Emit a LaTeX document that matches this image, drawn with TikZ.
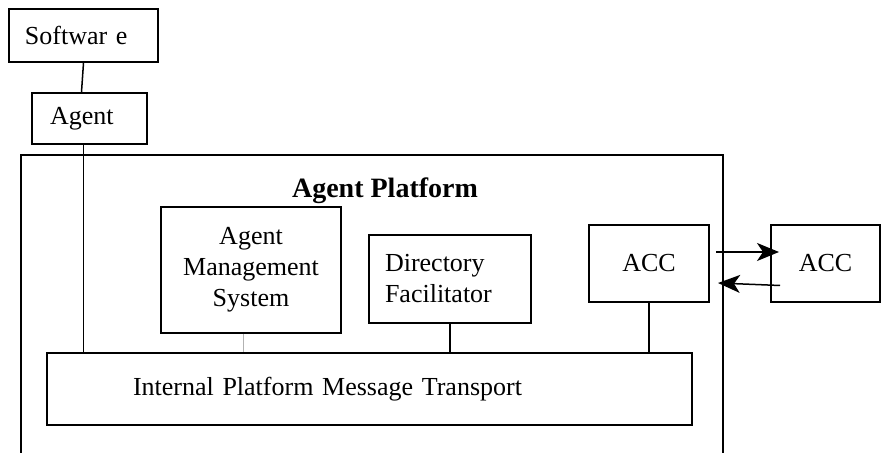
\documentclass[tikz,border=0pt]{standalone}
\usepackage{fontspec}
\setmainfont{Liberation Serif}
\usetikzlibrary{arrows.meta}

\begin{document}
\begin{tikzpicture}[x=0.5pt, y=-0.5pt, font=\fontsize{13}{15.5}\selectfont,
    box/.style={draw, rectangle, line width=1pt, inner sep=0pt},
    link/.style={line width=0.75pt},
    msg/.style={line width=0.75pt, -{Stealth[length=11pt, width=9pt, inset=3pt]}}]
    \useasboundingbox (0,0) rectangle (882,453);
    % platform frame
    \draw[line width=1pt] (21,453) -- (21,155) -- (723,155) -- (723,453);
    \node[font=\fontsize{14}{16}\selectfont\bfseries] (title) at (385,191) {Agent Platform};
    % boxes
    \node[box, text width=58.5pt, inner xsep=8pt, minimum height=26.5pt, align=left] (sw) at (83.5,35.5) {Softwar e};
    \node[box, text width=39.5pt, inner xsep=9pt, minimum height=25.5pt, align=left] (ag) at (89.5,118.5) {Agent};
    \node[box, text width=80pt, inner xsep=5pt, minimum height=63pt, align=center] (ams) at (251,270) {Agent\\Management\\System};
    \node[box, text width=65pt, inner xsep=8pt, minimum height=44pt, align=left] (df) at (450,279) {Directory\\Facilitator};
    \node[box, minimum width=60pt, minimum height=38.5pt] (acc) at (649,263.5) {ACC};
    \node[box, minimum width=54.5pt, minimum height=38.5pt] (rem) at (825.5,263.5) {ACC};
    \node[box, text width=236.5pt, inner xsep=43pt, minimum height=36pt, align=left] (imt) at (369.5,389) {Internal Platform Message Transport};
    % links
    \draw[link] (sw.south) -- ([xshift=-4pt]ag.north);
    \draw[link] ([xshift=-3pt]ag.south) -- ([xshift=-3pt]ag.south |- imt.north);
    \draw[link, gray!60, line width=0.5pt] ([xshift=-4pt]ams.south) -- ([xshift=-4pt]ams.south |- imt.north);
    \draw[link] (df.south) -- (df.south |- imt.north);
    \draw[link] (acc.south) -- (acc.south |- imt.north);
    % messages between the two ACCs
    \draw[msg] ([xshift=3pt, yshift=5.75pt]acc.east) -- ([xshift=4.5pt, yshift=5.75pt]rem.west);
    \draw[msg] ([xshift=5pt, yshift=-11pt]rem.west) -- ([xshift=4pt, yshift=-9.75pt]acc.east);
\end{tikzpicture}
\end{document}
